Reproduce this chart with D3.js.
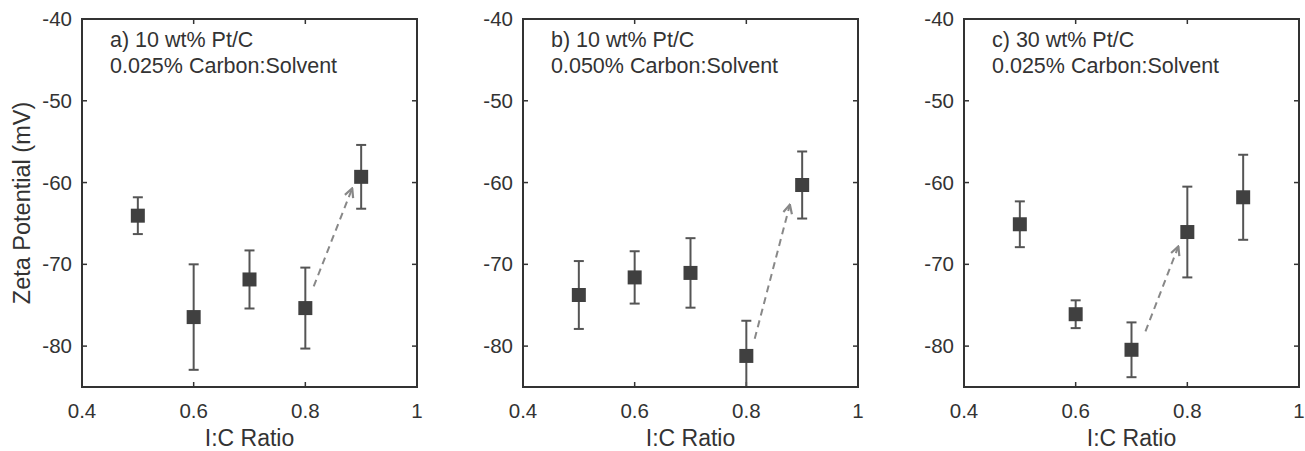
<!DOCTYPE html>
<html>
<head>
<meta charset="utf-8">
<script src="https://cdn.jsdelivr.net/npm/d3@7"></script>
<style>
  body { margin: 0; background: #fff; }
  text { font-family: "Liberation Sans", Arial, sans-serif; fill: #333; }
</style>
</head>
<body>
<div id="chart"></div>
<script>

// i:c ratios used in every panel
var ratios = [0.5, 0.6, 0.7, 0.8, 0.9];

// zeta potential means and error bars per panel (mV)
var mean_a = [-64.05, -76.45, -71.85, -75.35, -59.3];
var err_a  = [2.25, 6.45, 3.55, 4.95, 3.9];
var mean_b = [-73.75, -71.6, -71.05, -81.2, -60.3];
var err_b  = [4.15, 3.2, 4.25, 4.3, 4.1];
var mean_c = [-65.1, -76.1, -80.45, -66.05, -61.8];
var err_c  = [2.8, 1.7, 3.35, 5.55, 5.2];

// dashed arrows [start, end] in data units
var arrow_a = [[0.815, -72.7], [0.884, -60.7]];
var arrow_b = [[0.815, -79.1], [0.878, -62.7]];
var arrow_c = [[0.725, -78.2], [0.784, -67.8]];

// panel annotations
var title_a = ["a) 10 wt% Pt/C", "0.025% Carbon:Solvent"];
var title_b = ["b) 10 wt% Pt/C", "0.050% Carbon:Solvent"];
var title_c = ["c) 30 wt% Pt/C", "0.025% Carbon:Solvent"];

// ticks
var x_ticks = [0.4, 0.6, 0.8, 1];
var y_ticks = [-40, -50, -60, -70, -80];

var panels = [
  {mean: mean_a, err: err_a, arrow: arrow_a, title: title_a, left: 82},
  {mean: mean_b, err: err_b, arrow: arrow_b, title: title_b, left: 523},
  {mean: mean_c, err: err_c, arrow: arrow_c, title: title_c, left: 964}
];

// size of each axes box
var width_panel = 335,
    height_panel = 368,
    top_panel = 19;

var svg = d3.select("#chart").append("svg")
  .attr("width", 1305)
  .attr("height", 451);

// arrow head marker, open chevron
svg.append("defs").append("marker")
  .attr("id", "head")
  .attr("viewBox", "0 0 10 10")
  .attr("refX", 9)
  .attr("refY", 5)
  .attr("markerWidth", 5.5)
  .attr("markerHeight", 5.5)
  .attr("markerUnits", "strokeWidth")
  .attr("orient", "auto")
  .append("path")
  .attr("d", "M1,1 L9,5 L1,9")
  .attr("fill", "none")
  .attr("stroke", "#888")
  .attr("stroke-width", 2);

var x = d3.scaleLinear().domain([0.4, 1]).range([0, width_panel]);
var y = d3.scaleLinear().domain([-85, -40]).range([height_panel, 0]);

panels.forEach(function(p, k) {

  var g = svg.append("g")
    .attr("transform", "translate(" + p.left + "," + top_panel + ")");

  // clip for the error bars that leave the box
  g.append("clipPath")
    .attr("id", "clip" + k)
    .append("rect")
    .attr("width", width_panel)
    .attr("height", height_panel);

  // tick marks inside on all four sides
  var ticks = g.append("g").attr("stroke", "#333").attr("stroke-width", 1.5);
  x_ticks.forEach(function(t) {
    ticks.append("line").attr("x1", x(t)).attr("x2", x(t))
      .attr("y1", height_panel).attr("y2", height_panel - 5);
    ticks.append("line").attr("x1", x(t)).attr("x2", x(t))
      .attr("y1", 0).attr("y2", 5);
  });
  y_ticks.forEach(function(t) {
    ticks.append("line").attr("x1", 0).attr("x2", 5)
      .attr("y1", y(t)).attr("y2", y(t));
    ticks.append("line").attr("x1", width_panel).attr("x2", width_panel - 5)
      .attr("y1", y(t)).attr("y2", y(t));
  });

  // tick labels
  g.selectAll(".xlab").data(x_ticks).enter().append("text")
    .attr("x", function(d) { return x(d); })
    .attr("y", height_panel + 31)
    .attr("text-anchor", "middle")
    .style("font-size", "20.5px")
    .text(function(d) { return d; });

  g.selectAll(".ylab").data(y_ticks).enter().append("text")
    .attr("x", -10)
    .attr("y", function(d) { return y(d) + 7; })
    .attr("text-anchor", "end")
    .style("font-size", "20.5px")
    .text(function(d) { return d; });

  // axis label below
  g.append("text")
    .attr("x", width_panel / 2)
    .attr("y", height_panel + 59)
    .attr("text-anchor", "middle")
    .style("font-size", "23px")
    .text("I:C Ratio");

  if (k == 0) {
    g.append("text")
      .attr("transform", "translate(-52," + (height_panel / 2) + ") rotate(-90)")
      .attr("text-anchor", "middle")
      .style("font-size", "23.5px")
      .text("Zeta Potential (mV)");
  }

  // annotation
  g.selectAll(".title").data(p.title).enter().append("text")
    .attr("x", 28)
    .attr("y", function(d, i) { return 28 + i * 26; })
    .style("font-size", "21.5px")
    .text(function(d) { return d; });

  // dashed arrow
  g.append("line")
    .attr("x1", x(p.arrow[0][0])).attr("y1", y(p.arrow[0][1]))
    .attr("x2", x(p.arrow[1][0])).attr("y2", y(p.arrow[1][1]))
    .attr("stroke", "#888")
    .attr("stroke-width", 2)
    .attr("stroke-dasharray", "7,5")
    .attr("marker-end", "url(#head)");

  // error bars
  var bars = g.append("g")
    .attr("clip-path", "url(#clip" + k + ")")
    .attr("stroke", "#555")
    .attr("stroke-width", 2);

  ratios.forEach(function(r, i) {
    var hi = p.mean[i] + p.err[i],
        lo = p.mean[i] - p.err[i];
    bars.append("line").attr("x1", x(r)).attr("x2", x(r))
      .attr("y1", y(hi)).attr("y2", y(lo));
    bars.append("line").attr("x1", x(r) - 5).attr("x2", x(r) + 5)
      .attr("y1", y(hi)).attr("y2", y(hi));
    bars.append("line").attr("x1", x(r) - 5).attr("x2", x(r) + 5)
      .attr("y1", y(lo)).attr("y2", y(lo));
  });

  // square markers
  g.selectAll(".marker").data(ratios).enter().append("rect")
    .attr("x", function(d) { return x(d) - 7; })
    .attr("y", function(d, i) { return y(p.mean[i]) - 7; })
    .attr("width", 14)
    .attr("height", 14)
    .attr("fill", "#404040");

  // axes box
  g.append("rect")
    .attr("width", width_panel)
    .attr("height", height_panel)
    .attr("fill", "none")
    .attr("stroke", "#333")
    .attr("stroke-width", 2);
});

</script>
</body>
</html>
